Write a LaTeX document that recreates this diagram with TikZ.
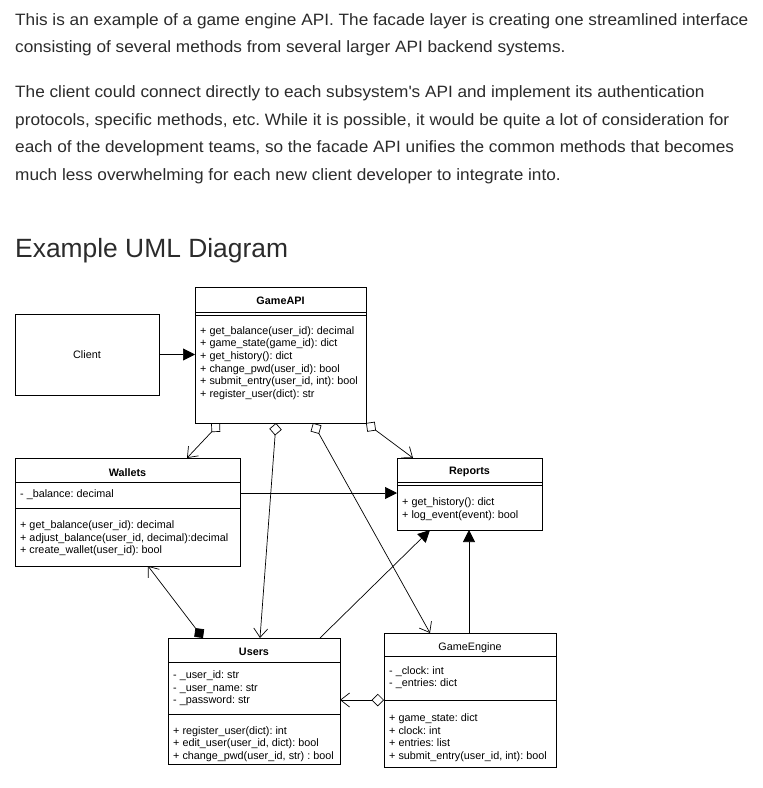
\documentclass[tikz,border=0pt]{standalone}
\usepackage{fontspec}
\setmainfont{Liberation Sans}
\newfontfamily\bodyfont{Liberation Sans}[FakeStretch=1.05]
\usetikzlibrary{arrows.meta,calc}
\definecolor{bodytext}{HTML}{2B2B2B}
\frenchspacing
\begin{document}
\begin{tikzpicture}[x=1pt,y=-1pt,
  box/.style={draw=black,line width=0.8pt,anchor=north west,inner sep=0pt,outer sep=0pt},
  para/.style={anchor=base west,inner sep=0pt,text=bodytext,font=\bodyfont\fontsize{16.4}{19}\selectfont},
  uml/.style={inner sep=0pt,anchor=west,align=left,font=\fontsize{10.8}{12.6}\selectfont},
  ttl/.style={inner sep=0pt,font=\fontsize{10.8}{13}\selectfont\bfseries},
  ttlr/.style={inner sep=0pt,font=\fontsize{10.8}{13}\selectfont},
  sepline/.style={line width=0.8pt},
  conn/.style={line width=0.7pt,draw=black},
  aggr/.style={conn,{Diamond[open,length=12.5pt,width=12.5pt]}-{Straight Barb[length=9pt,width=14pt]}},
  comp/.style={conn,{Diamond[length=12.5pt,width=12.5pt]}-{Straight Barb[length=9pt,width=14pt]}},
  assoc/.style={conn,-{Triangle[length=12pt,width=12pt]}}
]
\fill[white] (0,0) rectangle (763,788);
\useasboundingbox (0,0) rectangle (763,788);

% body text
\node[para] (p1) at (15,25) {This is an example of a game engine API. The facade layer is creating one streamlined interface};
\node[para] (p2) at (15,52.5) {consisting of several methods from several larger API backend systems.};
\node[para] (p3) at (15,97.5) {The client could connect directly to each subsystem\textquotesingle s API and implement its authentication};
\node[para] (p4) at (15,125) {protocols, specific methods, etc. While it is possible, it would be quite a lot of consideration for};
\node[para] (p5) at (15,152.5) {each of the development teams, so the facade API unifies the common methods that becomes};
\node[para] (p6) at (15,180) {much less overwhelming for each new client developer to integrate into.};
\node[anchor=base west,inner sep=0pt,text=bodytext,font=\fontsize{26.4}{30}\selectfont] (head) at (15,257) {Example UML Diagram};

% boxes
\node[box,minimum width=144pt,minimum height=81pt] (client) at (15,314) {};
\node[font=\fontsize{10.8}{13}\selectfont] (clientt) at (client.center) {Client};

\node[box,minimum width=171pt,minimum height=136pt] (api) at (195,287) {};
\node[ttl] (apit) at ($(api.north)+(0,14)$) {GameAPI};
\draw[sepline] ([yshift=-25pt]api.north west) -- ([yshift=-25pt]api.north east);
\draw[sepline] ([yshift=-28pt]api.north west) -- ([yshift=-28pt]api.north east);
\node[uml] (apim) at ($(api.north west)+(5,76)$) {+ get\_balance(user\_id): decimal\\+ game\_state(game\_id): dict\\+ get\_history(): dict\\+ change\_pwd(user\_id): bool\\+ submit\_entry(user\_id, int): bool\\+ register\_user(dict): str};

\node[box,minimum width=225pt,minimum height=108pt] (wal) at (15,458) {};
\node[ttl] (walt) at ($(wal.north)+(0,15)$) {Wallets};
\draw[sepline] ([yshift=-24pt]wal.north west) -- ([yshift=-24pt]wal.north east);
\draw[sepline] ([yshift=-50pt]wal.north west) -- ([yshift=-50pt]wal.north east);
\node[uml] (wala) at ($(wal.north west)+(5,37)$) {- \_balance: decimal};
\node[uml] (walm) at ($(wal.north west)+(5,80.5)$) {+ get\_balance(user\_id): decimal\\+ adjust\_balance(user\_id, decimal):decimal\\+ create\_wallet(user\_id): bool};

\node[box,minimum width=145pt,minimum height=72pt] (rep) at (397,458) {};
\node[ttl] (rept) at ($(rep.north)+(0,14)$) {Reports};
\draw[sepline] ([yshift=-24pt]rep.north west) -- ([yshift=-24pt]rep.north east);
\draw[sepline] ([yshift=-27pt]rep.north west) -- ([yshift=-27pt]rep.north east);
\node[uml] (repm) at ($(rep.north west)+(5,51)$) {+ get\_history(): dict\\+ log\_event(event): bool};

\node[box,minimum width=172pt,minimum height=126pt] (usr) at (168,638) {};
\node[ttl] (usrt) at ($(usr.north)+(0,13.5)$) {Users};
\draw[sepline] ([yshift=-24pt]usr.north west) -- ([yshift=-24pt]usr.north east);
\draw[sepline] ([yshift=-76pt]usr.north west) -- ([yshift=-76pt]usr.north east);
\node[uml] (usra) at ($(usr.north west)+(5,50.5)$) {- \_user\_id: str\\- \_user\_name: str\\- \_password: str};
\node[uml] (usrm) at ($(usr.north west)+(5,106)$) {+ register\_user(dict): int\\+ edit\_user(user\_id, dict): bool\\+ change\_pwd(user\_id, str) : bool};

\node[box,minimum width=172pt,minimum height=134pt] (ge) at (384,633) {};
\node[ttlr] (get) at ($(ge.north)+(0,15)$) {GameEngine};
\draw[sepline] ([yshift=-23pt]ge.north west) -- ([yshift=-23pt]ge.north east);
\draw[sepline] ([yshift=-67pt]ge.north west) -- ([yshift=-67pt]ge.north east);
\node[uml] (gea) at ($(ge.north west)+(5,44.5)$) {- \_clock: int\\- \_entries: dict};
\node[uml] (gem) at ($(ge.north west)+(5,104.5)$) {+ game\_state: dict\\+ clock: int\\+ entries: list\\+ submit\_entry(user\_id, int): bool};

% connectors
\draw[assoc] (client.east) -- (client.east -| api.west);
\draw[aggr] ([xshift=25pt]api.south west) -- ([xshift=172pt]wal.north west);
\draw[aggr] ([xshift=81pt]api.south west) -- ([xshift=92pt]usr.north west);
\draw[aggr] ([xshift=118pt]api.south west) -- ([xshift=46pt]ge.north west);
\draw[aggr] (api.south east) -- ([xshift=16pt]rep.north west);
\draw[assoc] ([yshift=-35pt]wal.north east) -- ([yshift=-35pt]wal.north east -| rep.west);
\draw[comp] ([xshift=35pt]usr.north west) -- ([xshift=133pt]wal.south west);
\draw[assoc] ([xshift=152pt]usr.north west) -- ([xshift=33pt]rep.south west);
\draw[assoc] ([xshift=85pt]ge.north west) -- ([xshift=85pt]ge.north west |- rep.south);
\draw[aggr] ([yshift=-67pt]ge.north west) -- ([yshift=-67pt]ge.north west -| usr.east);
\end{tikzpicture}
\end{document}
